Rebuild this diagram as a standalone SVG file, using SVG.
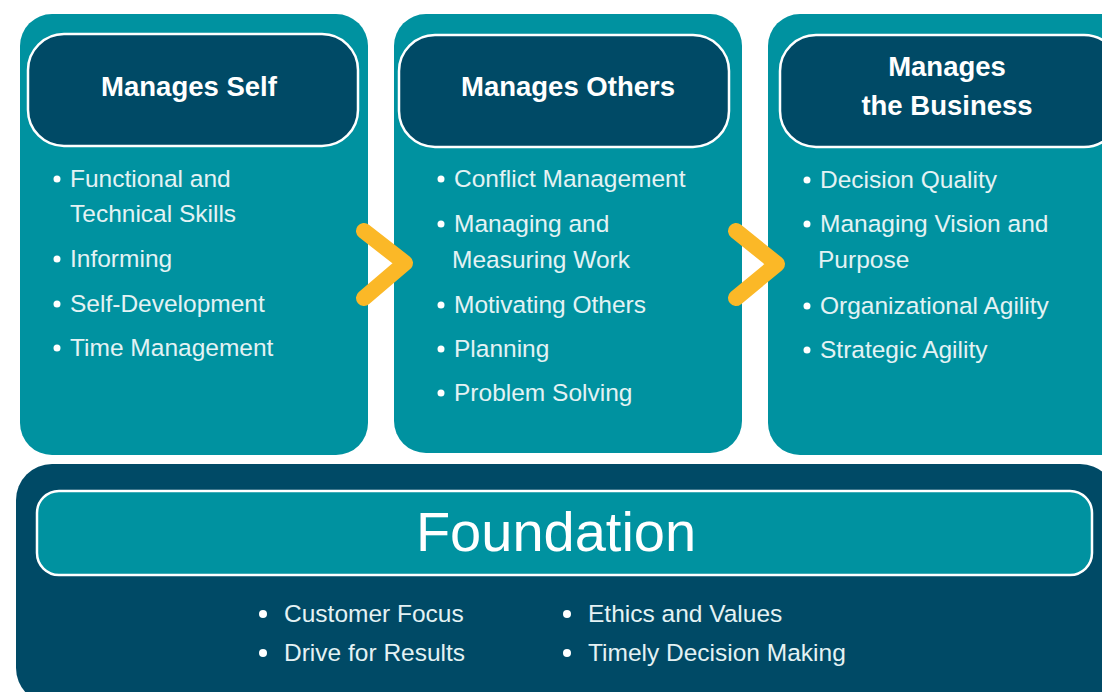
<svg xmlns="http://www.w3.org/2000/svg" width="1102" height="692" viewBox="0 0 1102 692">
<style>
.panel{fill:#0092A0}
.head{fill:#004A66;stroke:#fff;stroke-width:2.5}
.ht{font-family:"Liberation Sans",Arial,sans-serif;font-weight:bold;font-size:27.5px;fill:#fff;text-anchor:middle}
.bt{font-family:"Liberation Sans",Arial,sans-serif;font-size:24.5px;fill:#E4F2F4}
.dot{fill:#fff}
.chev{fill:none;stroke:#FBB827;stroke-width:16;stroke-linecap:round;stroke-linejoin:round}
</style>
<rect width="1102" height="692" fill="#fff"/>
<g id="node-self">
<rect class="panel" x="20" y="14" width="348" height="441" rx="32"/>
<rect class="head" x="28" y="34" width="330" height="112" rx="36"/>
<text class="ht" x="189" y="96">Manages Self</text>
<circle class="dot" cx="57" cy="179" r="3.5"/><text class="bt" x="70" y="187">Functional and</text>
<text class="bt" x="70" y="222">Technical Skills</text>
<circle class="dot" cx="57" cy="259" r="3.5"/><text class="bt" x="70" y="267">Informing</text>
<circle class="dot" cx="57" cy="304" r="3.5"/><text class="bt" x="70" y="312">Self-Development</text>
<circle class="dot" cx="57" cy="348" r="3.5"/><text class="bt" x="70" y="356">Time Management</text>
</g>
<g id="node-others">
<rect class="panel" x="394" y="14" width="348" height="439" rx="32"/>
<rect class="head" x="399" y="35" width="330" height="112" rx="36"/>
<text class="ht" x="568" y="96">Manages Others</text>
<circle class="dot" cx="441" cy="179" r="3.5"/><text class="bt" x="454" y="187">Conflict Management</text>
<circle class="dot" cx="441" cy="224" r="3.5"/><text class="bt" x="454" y="232">Managing and</text>
<text class="bt" x="452" y="268">Measuring Work</text>
<circle class="dot" cx="441" cy="305" r="3.5"/><text class="bt" x="454" y="313">Motivating Others</text>
<circle class="dot" cx="441" cy="349" r="3.5"/><text class="bt" x="454" y="357">Planning</text>
<circle class="dot" cx="441" cy="393" r="3.5"/><text class="bt" x="454" y="401">Problem Solving</text>
</g>
<g id="node-business">
<rect class="panel" x="768" y="14" width="370" height="441" rx="32"/>
<rect class="head" x="780" y="35" width="340" height="112" rx="36"/>
<text class="ht" x="947" y="76">Manages</text>
<text class="ht" x="947" y="115">the Business</text>
<circle class="dot" cx="807" cy="180" r="3.5"/><text class="bt" x="820" y="188">Decision Quality</text>
<circle class="dot" cx="807" cy="224" r="3.5"/><text class="bt" x="820" y="232">Managing Vision and</text>
<text class="bt" x="818" y="268">Purpose</text>
<circle class="dot" cx="807" cy="306" r="3.5"/><text class="bt" x="820" y="314">Organizational Agility</text>
<circle class="dot" cx="807" cy="350" r="3.5"/><text class="bt" x="820" y="358">Strategic Agility</text>
</g>
<g id="node-foundation">
<rect x="16" y="464" width="1100" height="240" rx="36" fill="#004A66"/>
<rect x="37" y="491" width="1055" height="84" rx="22" fill="#0092A0" stroke="#fff" stroke-width="2.5"/>
<text x="556" y="551" font-family="'Liberation Sans',Arial,sans-serif" font-size="56" fill="#fff" text-anchor="middle">Foundation</text>
<circle class="dot" cx="263" cy="614" r="4"/><text class="bt" x="284" y="622">Customer Focus</text>
<circle class="dot" cx="263" cy="653" r="4"/><text class="bt" x="284" y="661">Drive for Results</text>
<circle class="dot" cx="567" cy="614" r="4"/><text class="bt" x="588" y="622">Ethics and Values</text>
<circle class="dot" cx="567" cy="653" r="4"/><text class="bt" x="588" y="661">Timely Decision Making</text>
</g>
<g id="connectors">
<polyline class="chev" points="364,231 405,263 364,298"/>
<polyline class="chev" points="736,231 777,264 736,298"/>
</g>
</svg>
